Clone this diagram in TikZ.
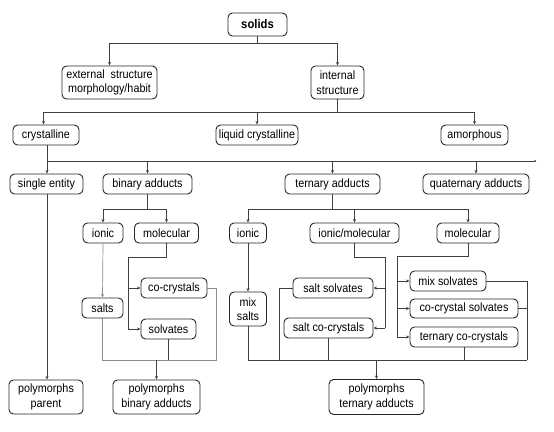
\documentclass[tikz,border=0pt]{standalone}
\usepackage{fontspec}
\setmainfont[FakeStretch=0.9]{Liberation Sans}
\usetikzlibrary{arrows.meta}
\begin{document}
\begin{tikzpicture}[x=1pt,y=-1pt,
  box/.style={draw=black!85, rounded corners=4.5pt, line width=0.9pt, inner sep=0pt, fill=white,
    align=center, font=\fontsize{12}{14.5}\selectfont, minimum height=20},
  conn/.style={draw=black!75, line width=0.8pt},
  thin/.style={draw=black!45, line width=0.7pt},
  arr/.style={-{Stealth[length=3.5pt,width=3pt]}}]
\useasboundingbox (0,0) rectangle (554,431);
% nodes
\node[box, minimum width=59, minimum height=23, font=\bfseries\fontsize{12.5}{14}\selectfont] (solids) at (257.5,24.5) {solids};
\node[box, minimum width=95, minimum height=33] (ext) at (109.5,82.5) {external\hspace{0.5em}structure\\morphology/habit};
\node[box, minimum width=53, minimum height=33] (int) at (337.5,82.5) {internal\\structure};
\node[box, minimum width=66] (cryst) at (46,135) {crystalline};
\node[box, minimum width=82] (liq) at (257,135) {liquid crystalline};
\node[box, minimum width=67] (amor) at (474.5,135) {amorphous};
\node[box, minimum width=73] (single) at (46.5,184) {single entity};
\node[box, minimum width=89] (binary) at (147.5,184) {binary adducts};
\node[box, minimum width=95] (ternary) at (332.5,184) {ternary adducts};
\node[box, minimum width=106] (quat) at (476,184) {quaternary adducts};
\node[box, minimum width=40] (bionic) at (103,233) {ionic};
\node[box, minimum width=64] (bimol) at (166.5,233) {molecular};
\node[box, minimum width=37] (tionic) at (248,233) {ionic};
\node[box, minimum width=89] (tim) at (354.5,233) {ionic/molecular};
\node[box, minimum width=62] (tmol) at (468,233) {molecular};
\node[box, minimum width=41] (salts) at (102.5,308) {salts};
\node[box, minimum width=66] (cocr) at (174,288) {co-crystals};
\node[box, minimum width=55] (solv) at (168.5,329) {solvates};
\node[box, minimum width=37, minimum height=34] (mixsalts) at (248,309) {mix\\salts};
\node[box, minimum width=80] (saltsolv) at (333,288) {salt solvates};
\node[box, minimum width=89] (saltcocr) at (328.5,328) {salt co-crystals};
\node[box, minimum width=76] (mixsolv) at (448,281) {mix solvates};
\node[box, minimum width=108, minimum height=19] (ccsolv) at (464,308.5) {co-crystal solvates};
\node[box, minimum width=108] (terncc) at (464,337) {ternary co-crystals};
\node[box, minimum width=74, minimum height=34] (pparent) at (46,397) {polymorphs\\parent};
\node[box, minimum width=87, minimum height=34] (pbinary) at (156.5,397) {polymorphs\\binary adducts};
\node[box, minimum width=95, minimum height=35] (pternary) at (376.5,397) {polymorphs\\ternary adducts};
% junction coordinates
\coordinate (j1) at (257.5,43);
\coordinate (j2) at (337.5,112);
\coordinate (j3) at (47,161);
\coordinate (j3e) at (535,161);
\coordinate (j4) at (147.5,209);
\coordinate (j5) at (332.5,209);
\coordinate (m1) at (166.5,257);
\coordinate (m2) at (128,257);
\coordinate (m3) at (128,288);
\coordinate (m4) at (128,329);
\coordinate (b1) at (102.5,360);
\coordinate (b2) at (216,360);
\coordinate (b3) at (216,288);
\coordinate (b4) at (156.5,360);
\coordinate (n1) at (354.5,257);
\coordinate (n2) at (385,257);
\coordinate (n3) at (385,288);
\coordinate (n4) at (385,328);
\coordinate (t1) at (248,360);
\coordinate (t2) at (527,360);
\coordinate (t3) at (279,288);
\coordinate (t4) at (279,360);
\coordinate (t5) at (376.5,360);
\coordinate (q1) at (468,256);
\coordinate (q2) at (397,256);
\coordinate (q3) at (397,337);
\coordinate (q4) at (527,281);
\coordinate (q5) at (527,308.5);
% connectors
\draw[conn] (solids.south) -- (j1);
\draw[conn,arr] (j1) -| (ext.north);
\draw[conn,arr] (j1) -| (int.north);
\draw[conn] (int.south) -- (j2);
\draw[conn,arr] (j2) -| ([xshift=-2.5]cryst.north);
\draw[conn,arr] (j2) -| (liq.north);
\draw[conn,arr] (j2) -| (amor.north);
\draw[conn] (cryst.south -| j3) -- (j3) -- (j3e);
\fill[black!75] (j3e) circle (1pt);
\draw[conn,arr] (j3) -- (single.north -| j3);
\draw[conn,arr] (j3 -| binary.north) -- (binary.north);
\draw[conn,arr] (j3 -| ternary.north) -- (ternary.north);
\draw[conn,arr] (j3 -| quat.north) -- (quat.north);
\draw[conn,arr] (single.south -| j3) -- (pparent.north -| j3);
\draw[conn] (binary.south) -- (j4);
\draw[conn,arr] (j4) -| (bionic.north);
\draw[conn,arr] (j4) -| (bimol.north);
\draw[conn] (ternary.south) -- (j5);
\draw[conn,arr] (j5) -| (tionic.north);
\draw[conn,arr] (j5) -| (tim.north);
\draw[conn,arr] (j5) -| (tmol.north);
% binary branch
\draw[thin,arr] (bionic.south) -- (salts.north);
\draw[conn] (bimol.south) -- (m1) -- (m2) -- (m4);
\draw[conn,arr] (m3) -- (cocr.west);
\draw[conn,arr] (m4) -- (solv.west);
\draw[thin] (salts.south) -- (b1) -- (b2) -- (b3) -- (cocr.east);
\draw[conn] (solv.south) -- (solv.south |- b1);
\draw[conn,arr] (b4) -- (pbinary.north);
% ternary branch
\draw[conn,arr] (tionic.south) -- (mixsalts.north);
\draw[conn] (tim.south) -- (n1) -- (n2) -- (n4);
\draw[conn,arr] (n3) -- (saltsolv.east);
\draw[conn,arr] (n4) -- (saltcocr.east);
\draw[conn] (mixsalts.south) -- (t1) -- (t2);
\draw[conn] (saltsolv.west) -- (t3) -- (t4);
\draw[conn] (saltcocr.south) -- (saltcocr.south |- t1);
\draw[conn,arr] (t5) -- (pternary.north);
\draw[conn] (tmol.south) -- (q1) -- (q2) -- (q3);
\draw[conn,arr] (q2 |- mixsolv.west) -- (mixsolv.west);
\draw[conn,arr] (q2 |- ccsolv.west) -- (ccsolv.west);
\draw[conn,arr] (q3) -- (terncc.west);
\draw[conn] (mixsolv.east) -- (q4) -- (t2);
\draw[conn] (ccsolv.east) -- (q5);
\draw[conn] (terncc.south) -- (terncc.south |- t1);
\end{tikzpicture}
\end{document}
